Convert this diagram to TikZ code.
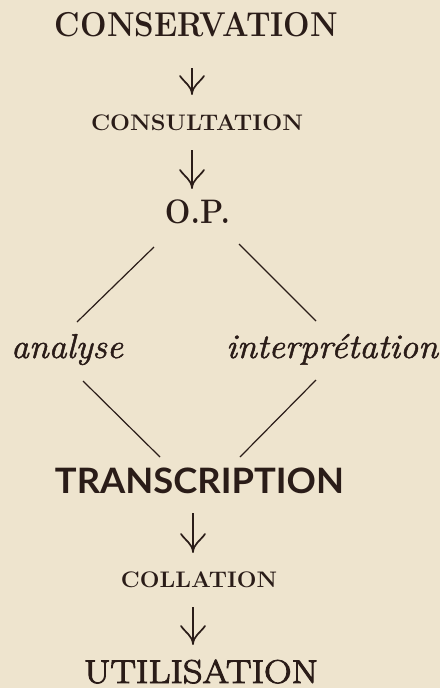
\documentclass[tikz,border=0pt]{standalone}
\usepackage{fontspec}
\usepackage{graphicx}
\newfontfamily\transfont{Lato}
\definecolor{bg}{RGB}{238,228,206}
\definecolor{ink}{RGB}{42,28,24}
\newcommand{\fitw}[2]{\resizebox{#1pt}{\height}{#2}}
\newcommand{\thick}[2]{\special{pdf:literal direct 2 Tr #1 w}#2\special{pdf:literal direct 0 Tr}}
\begin{document}
\begin{tikzpicture}[x=1pt,y=-1pt,
  lbl/.style={inner sep=0pt, anchor=base, text=ink},
  stem/.style={draw=ink, line width=1.3pt},
  barb/.style={draw=ink, line width=1.7pt, line cap=round},
  ln/.style={draw=ink, line width=1.2pt}]
\fill[bg] (0,0) rectangle (440,688);
\useasboundingbox (0,0) rectangle (440,688);

\node[lbl] (cons)   at (196.5,37) {\fontsize{34.5}{40}\selectfont\bfseries\fitw{283}{CONSERVATION}};
\node[lbl] (consu)  at (197,130)  {\fontsize{22.5}{26}\selectfont\bfseries\fitw{212}{CONSULTATION}};
\node[lbl] (op)     at (197.5,223){\fontsize{34}{40}\selectfont\bfseries\fitw{65}{O.P.}};
\node[lbl] (ana)    at (67,358)   {\fontsize{34.5}{40}\selectfont\itshape\fitw{112}{\thick{0.5}{analyse}}};
\node[lbl] (interp) at (332,358)  {\fontsize{34.5}{40}\selectfont\itshape\fitw{212}{\thick{0.5}{interprétation}}};
\node[lbl] (trans)  at (199.5,493){\fontsize{35}{40}\selectfont\transfont\bfseries\fitw{289}{TRANSCRIPTION}};
\node[lbl] (coll)   at (199,587)  {\fontsize{22.5}{26}\selectfont\bfseries\fitw{156}{COLLATION}};
\node[lbl] (util)   at (201,683)  {\fontsize{33}{40}\selectfont\fitw{234}{\thick{0.9}{UTILISATION}}};

% arrows: stem plus curved barbs ending at the tip
\draw[stem] ([shift={(-4.5,31)}]cons.base) -- ([shift={(-5,-36)}]consu.base) coordinate (t1);
\draw[stem] ([shift={(-5,20)}]consu.base) -- ([shift={(-5.5,-35)}]op.base) coordinate (t2);
\draw[stem] ([shift={(-6.5,20)}]trans.base) -- ([shift={(-6,-35)}]coll.base) coordinate (t3);
\draw[stem] ([shift={(-6,20)}]coll.base) -- ([shift={(-8,-39)}]util.base) coordinate (t4);
\foreach \t in {t1,t2,t3,t4}{
  \draw[barb] (\t) .. controls +(-0.6,-8) and +(5,7) .. +(-12,-18);
  \draw[barb] (\t) .. controls +(0.6,-8) and +(-5,7) .. +(12,-18);
}

\draw[ln] ([shift={(-43.5,24)}]op.base) -- ([shift={(10,-36)}]ana.base);
\draw[ln] ([shift={(41.5,21)}]op.base) -- ([shift={(-16,-37)}]interp.base);
\draw[ln] ([shift={(16,23)}]ana.base) -- ([shift={(-39.5,-36)}]trans.base);
\draw[ln] ([shift={(-16,22)}]interp.base) -- ([shift={(40.5,-36)}]trans.base);
\end{tikzpicture}
\end{document}
